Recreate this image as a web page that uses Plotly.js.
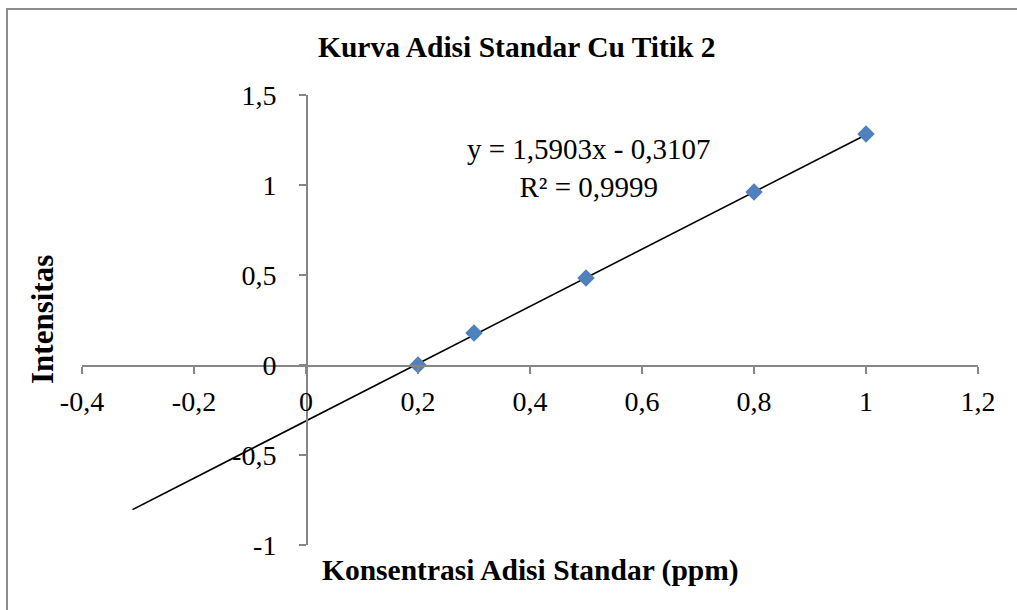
<!DOCTYPE html>
<html>
<head>
<meta charset="utf-8">
<script src="https://cdn.plot.ly/plotly-3.0.1.min.js"></script>
<style>
html,body{margin:0;padding:0;background:#fff;}
#wrap{position:relative;width:1017px;height:610px;}
#chart{width:1017px;height:610px;}
#bl{position:absolute;left:6px;top:8px;width:2px;height:602px;background:#8c8c8c;}
#bt{position:absolute;left:6px;top:8px;width:1011px;height:2px;background:#8c8c8c;}
</style>
</head>
<body>
<div id="wrap"><div id="chart"></div><div id="bl"></div><div id="bt"></div></div>
<script>
// Data
const konsentrasi = [0.2, 0.3, 0.5, 0.8, 1.0];
const intensitas = [0.0, 0.178, 0.483, 0.961, 1.283];
const slope = 1.5903;
const intercept = -0.3107;
const trendStartX = -0.31;
const trendEndX = 1.0;
const xTickVals = [-0.4, -0.2, 0, 0.2, 0.4, 0.6, 0.8, 1, 1.2];
const xTickText = ["-0,4", "-0,2", "0", "0,2", "0,4", "0,6", "0,8", "1", "1,2"];
const yTickVals = [-1, -0.5, 0, 0.5, 1, 1.5];
const yTickText = ["-1", "-0,5", "0", "0,5", "1", "1,5"];
const chartTitle = "Kurva Adisi Standar Cu Titik 2";
const xTitle = "Konsentrasi Adisi Standar (ppm)";
const yTitle = "Intensitas";
const eqText = "y = 1,5903x - 0,3107<br>R² = 0,9999";

const trendX = [trendStartX, trendEndX];
const trendY = trendX.map(x => slope * x + intercept);

const font = "'Liberation Serif', 'Times New Roman', serif";
const axisColor = "#868686";

const traces = [
  {x: trendX, y: trendY, mode: "lines", type: "scatter",
   line: {color: "#000", width: 1.6}, hoverinfo: "skip"},
  {x: konsentrasi, y: intensitas, mode: "markers", type: "scatter",
   marker: {symbol: "diamond", size: 13.5, color: "#4F81BD", line: {width: 0}}}
];

const layout = {
  width: 1017, height: 610,
  margin: {l: 82, r: 39, t: 95, b: 65},
  paper_bgcolor: "#fff", plot_bgcolor: "#fff",
  showlegend: false,
  font: {family: font, size: 28, color: "#000"},
  xaxis: {
    range: [-0.4, 1.2], anchor: "free", position: 0.4,
    tickvals: xTickVals, ticktext: xTickText,
    showgrid: false, zeroline: false,
    showline: true, linecolor: axisColor, linewidth: 1.5,
    ticks: "outside", ticklen: 7, tickcolor: axisColor, tickwidth: 1.5,
    ticklabelstandoff: 4,
    tickfont: {family: font, size: 28, color: "#000"}
  },
  yaxis: {
    range: [-1, 1.5], anchor: "free", position: 0.25,
    tickvals: yTickVals, ticktext: yTickText,
    showgrid: false, zeroline: false,
    showline: true, linecolor: axisColor, linewidth: 1.5,
    ticks: "outside", ticklen: 7, tickcolor: axisColor, tickwidth: 1.5,
    ticklabelstandoff: 17,
    tickfont: {family: font, size: 28, color: "#000"}
  },
  annotations: [
    {text: "<b>" + chartTitle + "</b>", xref: "paper", yref: "paper",
     x: (517 - 82) / 896, y: 1 + (95 - 47) / 450, xanchor: "center", yanchor: "middle",
     showarrow: false, font: {family: font, size: 29.5}},
    {text: "<b>" + xTitle + "</b>", xref: "paper", yref: "paper",
     x: 0.5, y: -(570 - 545) / 450, xanchor: "center", yanchor: "middle",
     showarrow: false, font: {family: font, size: 29.5}},
    {text: "<b>" + yTitle + "</b>", xref: "paper", yref: "paper",
     x: -(82 - 42) / 896, y: 0.5, xanchor: "center", yanchor: "middle", textangle: -90,
     showarrow: false, font: {family: font, size: 31}},
    {text: eqText, xref: "paper", yref: "paper",
     x: (589 - 82) / 896, y: 1 - (168 - 95) / 450, xanchor: "center", yanchor: "middle",
     showarrow: false, font: {family: font, size: 29}}
  ]
};

Plotly.newPlot("chart", traces, layout, {displayModeBar: false, staticPlot: true});
</script>
</body>
</html>
